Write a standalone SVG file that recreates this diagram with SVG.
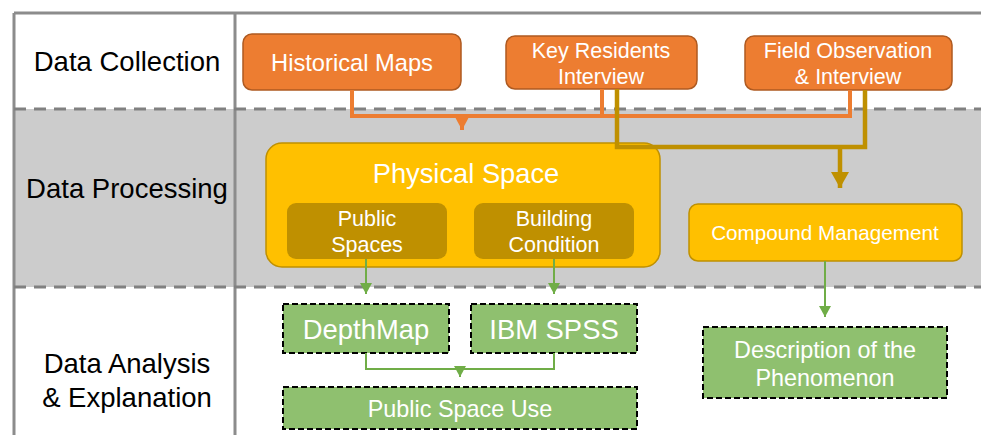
<svg xmlns="http://www.w3.org/2000/svg" width="981" height="435" viewBox="0 0 981 435">
<style>
text{font-family:"Liberation Sans",Arial,sans-serif;text-anchor:middle}
.lbl{fill:#000;font-size:27.5px}
.w{fill:#fff}
.orange{fill:#ED7D31;stroke:#AE5A21;stroke-width:1.5}
.gold{fill:#FFC000;stroke:#BF9000;stroke-width:1.5}
.dgold{fill:#BF9000;stroke:none}
.green{fill:#8FC06F;stroke:#000;stroke-width:2;stroke-dasharray:6 3}
.sep{stroke:#808080;stroke-width:3;stroke-dasharray:12 8;fill:none}
.frame{stroke:#8C8C8C;stroke-width:3;fill:none}
</style>
<defs>
<marker id="ao" markerUnits="userSpaceOnUse" markerWidth="14" markerHeight="14" refX="7" refY="13" viewBox="0 0 14 14"><path d="M0,0 L14,0 L7,13 Z" fill="#ED7D31"/></marker>
<marker id="ag" markerUnits="userSpaceOnUse" markerWidth="18" markerHeight="16" refX="9" refY="16" viewBox="0 0 18 16"><path d="M0,0 L18,0 L9,16 Z" fill="#BF9000"/></marker>
<marker id="agr" markerUnits="userSpaceOnUse" markerWidth="12" markerHeight="11" refX="6" refY="11" viewBox="0 0 12 11"><path d="M0,0 L12,0 L6,11 Z" fill="#70AD47"/></marker>
</defs>
<rect x="0" y="0" width="981" height="435" fill="#fff"/>
<g id="lanes">
<rect x="14" y="109" width="967" height="178" fill="#CCCCCC"/>
<line x1="14" y1="13" x2="981" y2="13" class="frame"/>
<line x1="14" y1="13" x2="14" y2="435" class="frame"/>
<line x1="235" y1="13" x2="235" y2="435" class="frame"/>
<line x1="14" y1="109" x2="981" y2="109" class="sep"/>
<line x1="14" y1="287" x2="981" y2="287" class="sep"/>
<text class="lbl" x="127" y="70.5">Data Collection</text>
<text class="lbl" x="127" y="197.5">Data Processing</text>
<text class="lbl" x="127" y="372.5">Data Analysis</text>
<text class="lbl" x="127" y="406.5">&amp; Explanation</text>
</g>
<g id="historical-maps">
<rect class="orange" x="243" y="34" width="218" height="56" rx="9"/>
<text class="w" x="352" y="70.5" font-size="23.7">Historical Maps</text>
</g>
<g id="key-residents">
<rect class="orange" x="506" y="36" width="191" height="53" rx="9"/>
<text class="w" x="601" y="57.5" font-size="21.5">Key Residents</text>
<text class="w" x="601" y="83.5" font-size="21.5">Interview</text>
</g>
<g id="field-observation">
<rect class="orange" x="745" y="36" width="207" height="54" rx="9"/>
<text class="w" x="848" y="57.5" font-size="21.5">Field Observation</text>
<text class="w" x="848" y="83.5" font-size="21.5">&amp; Interview</text>
</g>
<g id="physical-space">
<rect class="gold" x="266" y="143" width="394" height="124" rx="16"/>
<text class="w" x="466" y="182.5" font-size="27.3">Physical Space</text>
</g>
<g id="public-spaces">
<rect class="dgold" x="287" y="203" width="160" height="56" rx="9"/>
<text class="w" x="367" y="225.5" font-size="21.5">Public</text>
<text class="w" x="367" y="251.5" font-size="21.5">Spaces</text>
</g>
<g id="building-condition">
<rect class="dgold" x="474" y="203" width="160" height="56" rx="9"/>
<text class="w" x="554" y="225.5" font-size="21.5">Building</text>
<text class="w" x="554" y="251.5" font-size="21.5">Condition</text>
</g>
<g id="compound-management">
<rect class="gold" x="689" y="204" width="273" height="57" rx="9"/>
<text class="w" x="825" y="240" font-size="20.7">Compound Management</text>
</g>
<g id="depthmap">
<rect class="green" x="283" y="304" width="166" height="49"/>
<text class="w" x="366" y="338.5" font-size="27.4">DepthMap</text>
</g>
<g id="ibm-spss">
<rect class="green" x="471" y="304" width="166" height="49"/>
<text class="w" x="554" y="338.5" font-size="27.4">IBM SPSS</text>
</g>
<g id="public-space-use">
<rect class="green" x="283" y="387" width="354" height="42"/>
<text class="w" x="460" y="416.5" font-size="23.4">Public Space Use</text>
</g>
<g id="description">
<rect class="green" x="703" y="327" width="244" height="71"/>
<text class="w" x="825" y="357.5" font-size="23.4">Description of the</text>
<text class="w" x="825" y="385.5" font-size="23.4">Phenomenon</text>
</g>
<g id="connectors" fill="none">
<path d="M352,90 V116 H850 V90 M602,89 V116" stroke="#ED7D31" stroke-width="4"/>
<path d="M462,116 V130" stroke="#ED7D31" stroke-width="4" marker-end="url(#ao)"/>
<path d="M617,89 V147 H865 V90" stroke="#BF9000" stroke-width="4.5"/>
<path d="M840,147 V188" stroke="#BF9000" stroke-width="4.5" marker-end="url(#ag)"/>
<path d="M366,259 V294" stroke="#70AD47" stroke-width="2" marker-end="url(#agr)"/>
<path d="M554,259 V294" stroke="#70AD47" stroke-width="2" marker-end="url(#agr)"/>
<path d="M366,353 V369 H554 V353" stroke="#70AD47" stroke-width="2"/>
<path d="M460,369 V377" stroke="#70AD47" stroke-width="2" marker-end="url(#agr)"/>
<path d="M825,261 V317" stroke="#70AD47" stroke-width="2" marker-end="url(#agr)"/>
</g>
</svg>
